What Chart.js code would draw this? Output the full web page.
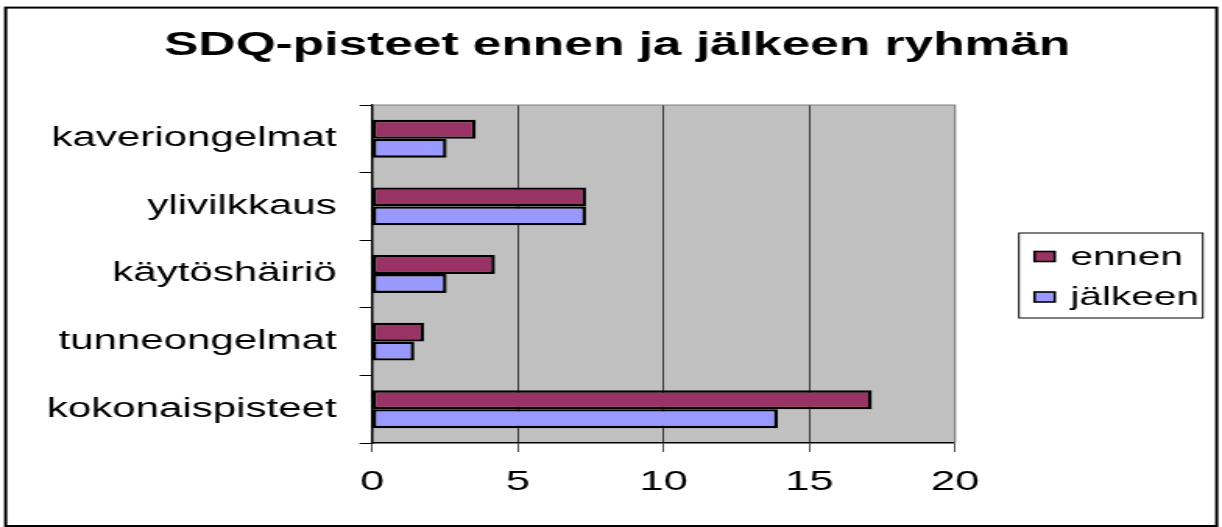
<!DOCTYPE html>
<html>
<head>
<meta charset="utf-8">
<script src="https://cdn.jsdelivr.net/npm/chart.js@4/dist/chart.umd.min.js"></script>
<style>
  body { margin: 0; background: #fff; overflow: hidden; }
  canvas { display: block; }
</style>
</head>
<body>
<!-- drawn narrow, then stretched sideways like the original picture -->
<canvas id="myChart" width="784" height="527" style="width:1222px;height:527px"></canvas>
<script>
let title = 'SDQ-pisteet ennen ja jälkeen ryhmän';
let categories = ['kaveriongelmat', 'ylivilkkaus', 'käytöshäiriö', 'tunneongelmat', 'kokonaispisteet'];
let ennen = [3.56, 7.34, 4.22, 1.78, 17.15];
let jalkeen = [2.56, 7.34, 2.56, 1.45, 13.92];
let xTicks = [0, 5, 10, 15, 20];

const FONT = "'Liberation Sans', Arial, sans-serif";

// grey plot area, title, outer frame, boxed legend
const excelLook = {
    id: 'excelLook',
    beforeDraw(chart) {
        const {ctx, chartArea: a} = chart;
        ctx.save();
        ctx.fillStyle = '#c0c0c0';
        ctx.fillRect(a.left, a.top, a.right - a.left, a.bottom - a.top);
        ctx.restore();
    },
    afterDraw(chart) {
        const {ctx, chartArea: a} = chart;
        ctx.save();
        // plot border top/right
        ctx.strokeStyle = '#808080';
        ctx.lineWidth = 1.2;
        ctx.beginPath();
        ctx.moveTo(a.left, a.top);
        ctx.lineTo(a.right, a.top);
        ctx.lineTo(a.right, a.bottom);
        ctx.stroke();

        // title, centred on the whole picture
        ctx.fillStyle = '#000';
        ctx.font = 'bold 33px ' + FONT;
        ctx.textAlign = 'center';
        ctx.textBaseline = 'middle';
        ctx.fillText(title, chart.width / 2 + 4, 46);

        // outer frame
        ctx.strokeStyle = '#000';
        ctx.lineWidth = 2;
        ctx.strokeRect(3.6, 7.6, 777, 518.4);

        // legend
        const lx = a.right + 41, ly = 233, lw = 118, lh = 85;
        ctx.lineWidth = 1;
        ctx.strokeRect(lx, ly, lw, lh);
        ctx.font = '26px ' + FONT;
        ctx.textAlign = 'left';
        const rows = [256.5, 297];
        chart.data.datasets.forEach((ds, i) => {
            const y = rows[i];
            ctx.fillStyle = ds.backgroundColor;
            ctx.fillRect(lx + 10, y - 5, 13, 10);
            ctx.strokeStyle = '#000';
            ctx.lineWidth = 1.6;
            ctx.strokeRect(lx + 10, y - 5, 13, 10);
            ctx.fillStyle = '#000';
            ctx.fillText(ds.label, lx + 33, y + 1);
        });
        ctx.restore();
    }
};

const myChart = new Chart(document.getElementById('myChart').getContext('2d'), {
    type: 'bar',
    data: {
        labels: categories,
        datasets: [{
            label: 'ennen',
            data: ennen,
            backgroundColor: '#993366',
            borderColor: '#000',
            borderWidth: 2.4,
            borderSkipped: false
        }, {
            label: 'jälkeen',
            data: jalkeen,
            backgroundColor: '#9999ff',
            borderColor: '#000',
            borderWidth: 2.4,
            borderSkipped: false
        }]
    },
    options: {
        indexAxis: 'y',
        responsive: false,
        animation: false,
        devicePixelRatio: 1,
        categoryPercentage: 0.56,
        barPercentage: 1,
        layout: {
            padding: { left: 0, right: 171.3, top: 105, bottom: 0 }
        },
        plugins: {
            legend: { display: false },
            tooltip: { enabled: false },
            title: { display: false }
        },
        scales: {
            x: {
                min: 0,
                max: 20,
                afterFit(scale) { scale.height = 84; },
                afterBuildTicks(scale) { scale.ticks = xTicks.map(v => ({ value: v })); },
                ticks: {
                    color: '#000',
                    padding: 13,
                    font: { family: FONT, size: 28 }
                },
                grid: {
                    color: ctx => ctx.tick && ctx.tick.value === 20 ? '#808080' : '#000',
                    lineWidth: 0.7,
                    tickColor: '#000',
                    tickLength: 9
                },
                border: { color: '#000', width: 1.5 }
            },
            y: {
                afterFit(scale) { scale.width = 238.7; },
                ticks: {
                    color: '#000',
                    padding: 14.6,
                    font: { family: FONT, size: 27 }
                },
                grid: {
                    drawOnChartArea: false,
                    tickColor: '#000',
                    tickLength: 8,
                    lineWidth: 1
                },
                border: { color: '#000', width: 1.5 }
            }
        }
    },
    plugins: [excelLook]
});
</script>
</body>
</html>
